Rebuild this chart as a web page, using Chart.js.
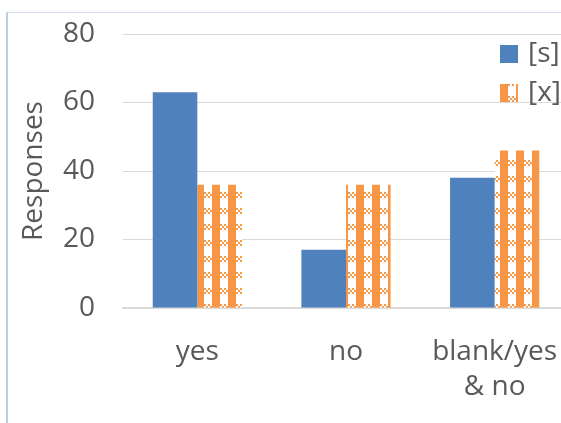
<!DOCTYPE html>
<html>
<head>
<meta charset="utf-8">
<script src="https://cdn.jsdelivr.net/npm/chart.js@4/dist/chart.umd.min.js"></script>
<style>
  html, body { margin: 0; padding: 0; background: #fff; overflow: hidden; width: 561px; height: 423px; }
  #frame { position: absolute; left: 6px; top: 12px; width: 620px; height: 520px;
           border-left: 2px solid #B9CDE6; border-top: 1px solid #D3DEEF; }
  #wrap { position: absolute; left: 0; top: 0; width: 569px; height: 423px; }
</style>
</head>
<body>
<div id="frame"></div>
<div id="wrap"><canvas id="c" width="569" height="423"></canvas></div>
<script>
// Categories and series
const categories = ['yes', 'no', ['blank/yes', '& no']];
const seriesNames = ['[s]', '[x]'];
const sValues = [63, 17, 38];
const xValues = [36, 36, 46];
const yTicks = { min: 0, max: 80, step: 20 };

const FONT = 'Open Sans';
const TEXT = '#595959';
const BLUE = '#4F81BD';
const ORANGE = '#F79646';

// Checker/plaid fill used for the second series
function makePattern() {
  const t = document.createElement('canvas');
  t.width = 16; t.height = 16;
  const g = t.getContext('2d');
  g.fillStyle = '#ffffff';
  g.fillRect(0, 0, 16, 16);
  g.fillStyle = ORANGE;
  // horizontal band of small checks
  for (let yy = 0; yy < 6; yy += 2) {
    for (let xx = 0; xx < 16; xx += 2) {
      if (((xx + yy) / 2) % 2 === 0) g.fillRect(xx, yy, 2, 2);
    }
  }
  // solid vertical stripe through the tile
  g.fillRect(4, 0, 8, 16);
  return g.createPattern(t, 'repeat');
}

const ctx = document.getElementById('c').getContext('2d');
const pattern = makePattern();

// Legend drawn in the upper-right corner of the plot area
const cornerLegend = {
  id: 'cornerLegend',
  afterDraw(chart, args, o) {
    const { ctx, chartArea } = chart;
    ctx.save();
    ctx.font = `${o.size}px "${FONT}"`;
    ctx.textBaseline = 'middle';
    ctx.textAlign = 'left';
    chart.data.datasets.forEach((ds, i) => {
      const x = chartArea.right - o.right;
      const y = chartArea.top + o.top + i * o.rowGap;
      ctx.fillStyle = ds.backgroundColor;
      ctx.fillRect(x, y, o.box, o.box);
      ctx.fillStyle = TEXT;
      ctx.fillText(ds.label, x + o.box + o.gap, y + o.box / 2);
    });
    ctx.restore();
  }
};

new Chart(ctx, {
  type: 'bar',
  data: {
    labels: categories,
    datasets: [
      { label: seriesNames[0], data: sValues, backgroundColor: BLUE, borderWidth: 0,
        barPercentage: 1.0, categoryPercentage: 0.6 },
      { label: seriesNames[1], data: xValues, backgroundColor: pattern, borderWidth: 0,
        barPercentage: 1.0, categoryPercentage: 0.6 }
    ]
  },
  options: {
    responsive: false,
    devicePixelRatio: 1,
    animation: false,
    layout: { padding: { top: 34, right: 0, bottom: 0, left: 0 } },
    plugins: {
      legend: { display: false },
      tooltip: { enabled: false },
      cornerLegend: { size: 28, right: 69, top: 11, rowGap: 39, box: 18, gap: 10 }
    },
    scales: {
      x: {
        grid: { display: false, drawTicks: true, tickLength: 27 },
        border: { display: true, color: '#D9D9D9', width: 1.5 },
        ticks: {
          color: TEXT, font: { family: FONT, size: 28, lineHeight: 1.25 },
          padding: 0, maxRotation: 0, autoSkip: false
        },
        afterFit(s) { s.height = 115; }
      },
      y: {
        min: yTicks.min, max: yTicks.max,
        grid: { color: '#D9D9D9', lineWidth: 1, drawTicks: true, tickLength: 28, tickColor: 'rgba(0,0,0,0)' },
        border: { display: false },
        ticks: { stepSize: yTicks.step, color: TEXT, font: { family: FONT, size: 28 }, padding: 0 },
        title: {
          display: true, text: 'Responses', color: TEXT,
          font: { family: FONT, size: 28 }, padding: { top: 17, bottom: 0 }
        },
        afterFit(s) { s.width = 123; }
      }
    }
  },
  plugins: [cornerLegend]
});
</script>
</body>
</html>
